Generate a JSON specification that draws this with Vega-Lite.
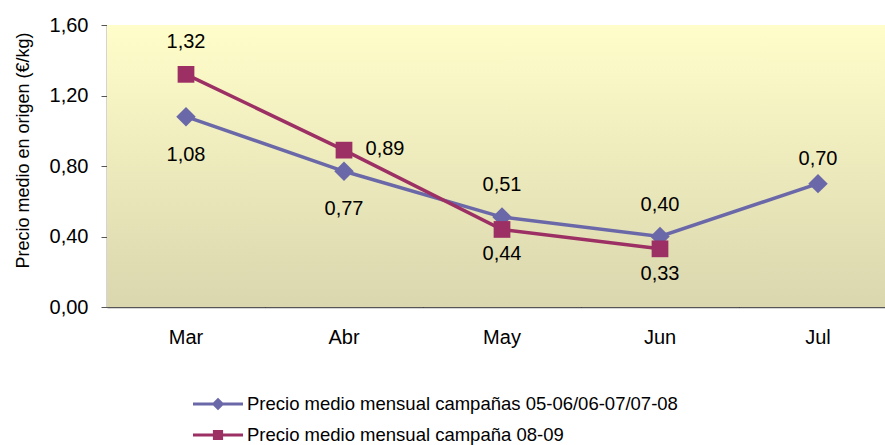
{
  "$schema": "https://vega.github.io/schema/vega-lite/v6.json",
  "autosize": "none",
  "width": 778,
  "height": 282,
  "padding": {"left": 107, "top": 25, "right": 0, "bottom": 138},
  "config": {
    "locale": {"number": {"decimal": ",", "thousands": ".", "grouping": [3], "currency": ["", " €"]}},
    "font": "Liberation Sans",
    "view": {"stroke": null}
  },
  "datasets": {
    "precios": [
      {"mes": "Mar", "serie": "Precio medio mensual campañas 05-06/06-07/07-08", "valor": 1.08},
      {"mes": "Abr", "serie": "Precio medio mensual campañas 05-06/06-07/07-08", "valor": 0.77},
      {"mes": "May", "serie": "Precio medio mensual campañas 05-06/06-07/07-08", "valor": 0.51},
      {"mes": "Jun", "serie": "Precio medio mensual campañas 05-06/06-07/07-08", "valor": 0.40},
      {"mes": "Jul", "serie": "Precio medio mensual campañas 05-06/06-07/07-08", "valor": 0.70},
      {"mes": "Mar", "serie": "Precio medio mensual campaña 08-09", "valor": 1.32},
      {"mes": "Abr", "serie": "Precio medio mensual campaña 08-09", "valor": 0.89},
      {"mes": "May", "serie": "Precio medio mensual campaña 08-09", "valor": 0.44},
      {"mes": "Jun", "serie": "Precio medio mensual campaña 08-09", "valor": 0.33}
    ]
  },
  "layer": [
    {
      "data": {"values": [{"a": 1}]},
      "mark": {
        "type": "rect",
        "color": {"gradient": "linear", "x1": 0, "y1": 0, "x2": 0, "y2": 1,
          "stops": [{"offset": 0, "color": "#FFFECA"}, {"offset": 1, "color": "#DAD6AE"}]}
      },
      "encoding": {
        "y": {"datum": 1.6, "type": "quantitative", "scale": {"domain": [0, 1.6], "nice": false}},
        "y2": {"datum": 0}
      }
    },
    {
      "data": {"name": "precios"},
      "mark": {"type": "line", "strokeWidth": 3.5},
      "encoding": {
        "x": {
          "field": "mes", "type": "nominal", "sort": ["Mar", "Abr", "May", "Jun", "Jul"],
          "scale": {"domain": ["Mar", "Abr", "May", "Jun", "Jul"], "range": [0, 790], "paddingInner": 0, "paddingOuter": 0},
          "axis": {
            "title": null, "labelAngle": 0, "labelFontSize": 20, "labelColor": "#000000",
            "labelPadding": 24, "domainColor": "#555555", "domainWidth": 1.5,
            "tickColor": "#333333", "tickSize": -4, "tickWidth": 1, "orient": "bottom"
          }
        },
        "y": {
          "field": "valor", "type": "quantitative",
          "scale": {"domain": [0, 1.6], "nice": false},
          "axis": {
            "title": "Precio medio en origen (€/kg)", "titleFontSize": 18, "titleFontWeight": "normal",
            "titleColor": "#000000", "titlePadding": 17, "titleY": 125,
            "values": [0, 0.2, 0.4, 0.6, 0.8, 1.0, 1.2, 1.4, 1.6],
            "format": ".2f",
            "labelExpr": "round(datum.value*10)%4==0 ? datum.label : ''",
            "labelFontSize": 20, "labelColor": "#000000", "labelPadding": 13,
            "tickSize": 6, "tickColor": "#555555", "domainColor": "#555555", "domainWidth": 1.5,
            "grid": true, "gridColor": "#000000", "gridDash": [3, 2], "gridWidth": 1,
            "gridOpacity": {"condition": {"test": "round(datum.value*10)%4==0 && datum.value>0", "value": 0.8}, "value": 0}
          }
        },
        "color": {
          "field": "serie", "type": "nominal",
          "scale": {
            "domain": ["Precio medio mensual campañas 05-06/06-07/07-08", "Precio medio mensual campaña 08-09"],
            "range": ["#6A68A8", "#9C3064"]
          },
          "legend": {
            "title": null, "orient": "none", "legendX": 96, "legendY": 364, "direction": "vertical",
            "labelFontSize": 18.5, "labelColor": "#000000", "labelLimit": 0, "symbolSize": 900, "labelOffset": 14,
            "rowPadding": 6,
            "encode": {
              "symbols": {
                "update": {
                  "shape": {"signal": "datum.value == 'Precio medio mensual campaña 08-09' ? 'M-1.667,-0.1L1.667,-0.1L1.667,0.1L-1.667,0.1Z M-0.34,-0.34L0.34,-0.34L0.34,0.34L-0.34,0.34Z' : 'M-1.667,-0.1L1.667,-0.1L1.667,0.1L-1.667,0.1Z M0,-0.42L0.42,0L0,0.42L-0.42,0Z'"},
                  "fill": {"signal": "datum.value == 'Precio medio mensual campaña 08-09' ? '#9C3064' : '#6A68A8'"},
                  "fillOpacity": {"value": 1},
                  "stroke": {"value": "transparent"},
                  "strokeWidth": {"value": 0},
                  "opacity": {"value": 1}
                }
              }
            }
          }
        }
      }
    },
    {
      "data": {"name": "precios"},
      "transform": [{"filter": "datum.serie == 'Precio medio mensual campañas 05-06/06-07/07-08'"}],
      "mark": {"type": "point", "filled": true, "opacity": 1, "shape": "diamond", "size": 380, "color": "#6A68A8"},
      "encoding": {
        "x": {
          "field": "mes", "type": "nominal", "sort": ["Mar", "Abr", "May", "Jun", "Jul"],
          "axis": {
            "title": null, "labels": false, "domain": false, "tickBand": "extent",
            "tickColor": "#333333", "tickSize": -4, "tickWidth": 1, "orient": "bottom"
          }
        },
        "y": {"field": "valor", "type": "quantitative"}
      }
    },
    {
      "data": {"name": "precios"},
      "transform": [{"filter": "datum.serie == 'Precio medio mensual campaña 08-09'"}],
      "mark": {"type": "point", "filled": true, "opacity": 1, "shape": "square", "size": 280, "color": "#9C3064"},
      "encoding": {
        "x": {"field": "mes", "type": "nominal", "sort": ["Mar", "Abr", "May", "Jun", "Jul"], "axis": null},
        "y": {"field": "valor", "type": "quantitative"}
      }
    },
    {
      "data": {"name": "precios"},
      "transform": [{"filter": "datum.valor == 1.32 || datum.valor == 0.51 || datum.valor == 0.40"}],
      "mark": {"type": "text", "fontSize": 20, "color": "#000000", "baseline": "middle", "dy": -32},
      "encoding": {
        "x": {"field": "mes", "type": "nominal", "sort": ["Mar", "Abr", "May", "Jun", "Jul"], "axis": null},
        "y": {"field": "valor", "type": "quantitative"},
        "text": {"field": "valor", "type": "quantitative", "format": ".2f"}
      }
    },
    {
      "data": {"name": "precios"},
      "transform": [{"filter": "datum.valor == 0.70"}],
      "mark": {"type": "text", "fontSize": 20, "color": "#000000", "baseline": "middle", "dy": -25},
      "encoding": {
        "x": {"field": "mes", "type": "nominal", "sort": ["Mar", "Abr", "May", "Jun", "Jul"], "axis": null},
        "y": {"field": "valor", "type": "quantitative"},
        "text": {"field": "valor", "type": "quantitative", "format": ".2f"}
      }
    },
    {
      "data": {"name": "precios"},
      "transform": [{"filter": "datum.valor == 1.08 || datum.valor == 0.77"}],
      "mark": {"type": "text", "fontSize": 20, "color": "#000000", "baseline": "middle", "dy": 38},
      "encoding": {
        "x": {"field": "mes", "type": "nominal", "sort": ["Mar", "Abr", "May", "Jun", "Jul"], "axis": null},
        "y": {"field": "valor", "type": "quantitative"},
        "text": {"field": "valor", "type": "quantitative", "format": ".2f"}
      }
    },
    {
      "data": {"name": "precios"},
      "transform": [{"filter": "datum.valor == 0.44 || datum.valor == 0.33"}],
      "mark": {"type": "text", "fontSize": 20, "color": "#000000", "baseline": "middle", "dy": 25},
      "encoding": {
        "x": {"field": "mes", "type": "nominal", "sort": ["Mar", "Abr", "May", "Jun", "Jul"], "axis": null},
        "y": {"field": "valor", "type": "quantitative"},
        "text": {"field": "valor", "type": "quantitative", "format": ".2f"}
      }
    },
    {
      "data": {"name": "precios"},
      "transform": [{"filter": "datum.valor == 0.89"}],
      "mark": {"type": "text", "fontSize": 20, "color": "#000000", "baseline": "middle", "dx": 41, "dy": -1},
      "encoding": {
        "x": {"field": "mes", "type": "nominal", "sort": ["Mar", "Abr", "May", "Jun", "Jul"], "axis": null},
        "y": {"field": "valor", "type": "quantitative"},
        "text": {"field": "valor", "type": "quantitative", "format": ".2f"}
      }
    }
  ],
  "resolve": {"axis": {"x": "independent"}}
}
